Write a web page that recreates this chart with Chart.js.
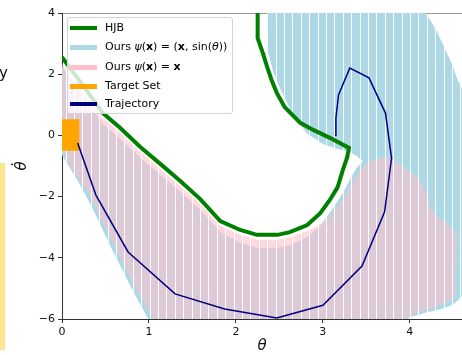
<!DOCTYPE html>
<html>
<head>
<meta charset="utf-8">
<script src="https://cdn.jsdelivr.net/npm/chart.js@4.4.1/dist/chart.umd.min.js"></script>
<style>
  html, body { margin: 0; padding: 0; background: #fff; }
  #wrap { position: relative; width: 462px; height: 355px; overflow: hidden; }
  #chart { position: absolute; left: 0; top: 0; }
  #legend {
    position: absolute; left: 67px; top: 17px; width: 166px; height: 97px;
    box-sizing: border-box; border: 1px solid #d4d4d4; border-radius: 3px;
    background: rgba(255, 255, 255, 0.8);
    font: 11px 'DejaVu Sans', sans-serif; color: #000;
  }
  .row { position: absolute; left: 0; height: 20px; line-height: 20px; white-space: nowrap; }
  .row .h { position: absolute; left: 2px; width: 27px; }
  .row .t { position: absolute; left: 37px; }
  .strip { position: absolute; left: 0; top: 163px; width: 5px; height: 187px; background: #fde68f; }
  .stray { position: absolute; left: -1px; top: 64px; font: 15px 'DejaVu Sans', sans-serif; color: #111; }
</style>
</head>
<body>
<div id="wrap">
  <canvas id="chart" width="462" height="355"></canvas>
  <div class="strip"></div>
  <span class="stray">y</span>
  <div id="legend">
    <div class="row" style="top:0px"><span class="h" style="top:8px;height:4px;background:#008000"></span><span class="t">HJB</span></div>
    <div class="row" style="top:19px"><span class="h" style="top:8px;height:5px;background:#add8e6"></span><span class="t">Ours <i>ψ</i>(<b>x</b>) = (<b>x</b>, sin(<i>θ</i>))</span></div>
    <div class="row" style="top:39px"><span class="h" style="top:8px;height:5px;background:#ffc0cb"></span><span class="t">Ours <i>ψ</i>(<b>x</b>) = <b>x</b></span></div>
    <div class="row" style="top:58px"><span class="h" style="top:8px;height:5px;background:#ffa500"></span><span class="t">Target Set</span></div>
    <div class="row" style="top:76px"><span class="h" style="top:8px;height:4px;background:#000080"></span><span class="t">Trajectory</span></div>
  </div>
</div>
<script>
// axis ticks
const xTicks = [0, 1, 2, 3, 4];
const yTicks = [-6, -4, -2, 0, 2, 4];

// HJB zero level set (theta, theta_dot)
const hjbTheta = [0.00, 0.21, 0.47, 0.67, 0.90, 1.13, 1.36, 1.59, 1.82, 2.05, 2.24, 2.48, 2.62, 2.82, 2.97, 3.08, 3.17, 3.23, 3.28, 3.30, 3.08, 2.89, 2.74, 2.56, 2.47, 2.41, 2.36, 2.31, 2.25, 2.25];
const hjbOmega = [2.56, 1.75, 0.73, 0.24, -0.38, -0.93, -1.49, -2.08, -2.80, -3.09, -3.25, -3.25, -3.16, -2.93, -2.54, -2.11, -1.69, -1.13, -0.71, -0.41, -0.08, 0.18, 0.41, 0.93, 1.39, 1.81, 2.23, 2.69, 3.18, 4.20];

// region reached with psi(x) = (x, sin(theta))  (outline)
const sinTheta = [2.36, 4.16, 4.30, 4.41, 4.49, 4.55, 4.70, 4.70, 4.49, 4.35, 4.20, 4.00, 3.94, 1.01, 0.81, 0.58, 0.36, 0.21, 0.07, 0.00, -0.10, -0.10,
  0.00, 0.21, 0.47, 0.67, 0.90, 1.13, 1.36, 1.59, 1.82, 2.05, 2.24, 2.48, 2.64, 2.82, 2.97, 3.08, 3.17, 3.25, 3.32, 3.39, 3.46,
  3.39, 3.31, 3.16, 3.00, 2.82, 2.70, 2.60, 2.51, 2.43, 2.37, 2.36];
const sinOmega = [4.10, 4.10, 3.46, 2.80, 2.30, 1.80, 1.00, -5.00, -5.55, -5.68, -5.78, -5.94, -6.10, -6.10, -5.05, -3.75, -2.44, -1.62, -0.97, -0.64, -0.64, 2.24,
  2.24, 1.39, 0.37, -0.12, -0.73, -1.29, -1.84, -2.43, -3.15, -3.51, -3.67, -3.67, -3.57, -3.31, -2.96, -2.53, -2.15, -1.78, -1.39, -1.06, -0.84,
  -0.67, -0.54, -0.44, -0.28, 0.05, 0.50, 0.99, 1.52, 2.07, 2.72, 3.34];

// region reached with psi(x) = x  (outline)
const idTheta = [0.00, 0.21, 0.47, 0.67, 0.90, 1.13, 1.36, 1.59, 1.82, 2.05, 2.24, 2.48, 2.64, 2.82, 2.92, 3.05, 3.14, 3.23, 3.31, 3.37, 3.45, 3.54, 3.66, 3.74, 3.81, 3.92, 4.08, 4.15, 4.21, 4.24, 4.35, 4.43, 4.49, 4.55,
  4.54, 4.52, 4.54, 4.43, 4.26, 4.08, 3.97, 3.93, 1.07, 0.86, 0.63, 0.40, 0.29, 0.17, 0.07, 0.00, -0.10, -0.10];
const idOmega = [2.33, 1.55, 0.57, 0.08, -0.54, -1.10, -1.65, -2.24, -2.95, -3.25, -3.41, -3.41, -3.31, -3.12, -2.99, -2.73, -2.44, -2.11, -1.69, -1.37, -1.08, -0.87, -0.75, -0.71, -0.80, -1.03, -1.36, -1.68, -2.01, -2.43, -2.76, -2.86, -3.09, -3.22,
  -3.51, -4.72, -5.15, -5.47, -5.63, -5.80, -5.96, -6.10, -6.10, -5.05, -3.75, -2.44, -1.79, -1.36, -0.87, -0.48, -0.48, 2.33];

// target set box
const targetTheta = [0.00, 0.20, 0.20, 0.00, 0.00];
const targetOmega = [-0.50, -0.50, 0.53, 0.53, -0.50];

// closed-loop trajectory from (pi, 0)
const trajTheta = [3.14, 3.15, 3.18, 3.31, 3.53, 3.72, 3.79, 3.71, 3.45, 3.00, 2.47, 1.87, 1.30, 0.76, 0.39, 0.18];
const trajOmega = [0.00, 0.57, 1.32, 2.20, 1.88, 0.73, -0.74, -2.50, -4.27, -5.55, -5.97, -5.67, -5.18, -3.81, -1.95, -0.25];

function pts(xs, ys) {
  return xs.map((x, i) => ({ x: x, y: ys[i] }));
}

const canvas = document.getElementById('chart');
const ctx = canvas.getContext('2d');

// column texture of the marker grid
function striped(base, gap) {
  const c = document.createElement('canvas');
  c.width = 42; c.height = 4;
  const g = c.getContext('2d');
  g.fillStyle = base;
  g.fillRect(0, 0, 42, 4);
  [7, 15, 24, 32, 40].forEach(function (sx) {
    g.clearRect(sx, 0, 1, 4);
    g.fillStyle = gap;
    g.fillRect(sx, 0, 1, 4);
  });
  return ctx.createPattern(c, 'repeat');
}

const bluePattern = striped('rgb(173,216,230)', 'rgba(255,255,255,0.9)');
const pinkPattern = striped('rgba(255,192,203,0.6)', 'rgba(255,255,255,0.55)');

const tickFont = { family: 'DejaVu Sans', size: 11 };
const titleFont = { family: 'DejaVu Sans', size: 15, style: 'italic' };

new Chart(ctx, {
  type: 'scatter',
  data: {
    datasets: [
      {
        label: 'Trajectory', data: pts(trajTheta, trajOmega), showLine: true,
        borderColor: '#000080', borderWidth: 1.5, pointRadius: 0, order: 0
      },
      {
        label: 'HJB', data: pts(hjbTheta, hjbOmega), showLine: true,
        borderColor: '#008000', borderWidth: 4, pointRadius: 0, order: 1
      },
      {
        label: 'Target Set', data: pts(targetTheta, targetOmega), showLine: true,
        fill: 'shape', backgroundColor: '#ffa500', borderColor: 'transparent', borderWidth: 0, pointRadius: 0, order: 2
      },
      {
        label: 'Ours psi(x) = x', data: pts(idTheta, idOmega), showLine: true,
        fill: 'shape', backgroundColor: pinkPattern, borderColor: 'transparent', borderWidth: 0, pointRadius: 0, order: 3
      },
      {
        label: 'Ours psi(x) = (x, sin)', data: pts(sinTheta, sinOmega), showLine: true,
        fill: 'shape', backgroundColor: bluePattern, borderColor: 'transparent', borderWidth: 0, pointRadius: 0, order: 4
      }
    ]
  },
  options: {
    responsive: false,
    animation: false,
    devicePixelRatio: 1,
    layout: { padding: 0 },
    plugins: { legend: { display: false }, tooltip: { enabled: false } },
    scales: {
      x: {
        type: 'linear', position: 'bottom', min: 0, max: 4.6,
        afterFit: function (s) { s.height = 36; },
        afterBuildTicks: function (s) { s.ticks = xTicks.map(v => ({ value: v })); },
        ticks: { font: tickFont, color: '#111', padding: 3 },
        grid: { drawOnChartArea: false, drawTicks: true, tickLength: 4, color: '#333' },
        border: { display: true, color: '#333', width: 1 },
        title: { display: true, text: 'θ', font: titleFont, color: '#111', padding: { top: 0, bottom: 0 } }
      },
      x2: {
        type: 'linear', position: 'top', min: 0, max: 4.6,
        afterFit: function (s) { s.height = 13; },
        ticks: { display: false },
        grid: { display: false },
        border: { display: true, color: '#999', width: 1 }
      },
      y: {
        type: 'linear', position: 'left', min: -6, max: 4,
        afterFit: function (s) { s.width = 62; },
        afterBuildTicks: function (s) { s.ticks = yTicks.map(v => ({ value: v })); },
        ticks: {
          font: tickFont, color: '#111', padding: 3,
          callback: function (v) { return String(v).replace('-', '\u2212'); }
        },
        grid: { drawOnChartArea: false, drawTicks: true, tickLength: 4, color: '#333' },
        border: { display: true, color: '#333', width: 1 },
        title: { display: true, text: 'θ\u0307', font: titleFont, color: '#111', padding: { top: 13, bottom: 0 } }
      }
    }
  }
});
</script>
</body>
</html>
